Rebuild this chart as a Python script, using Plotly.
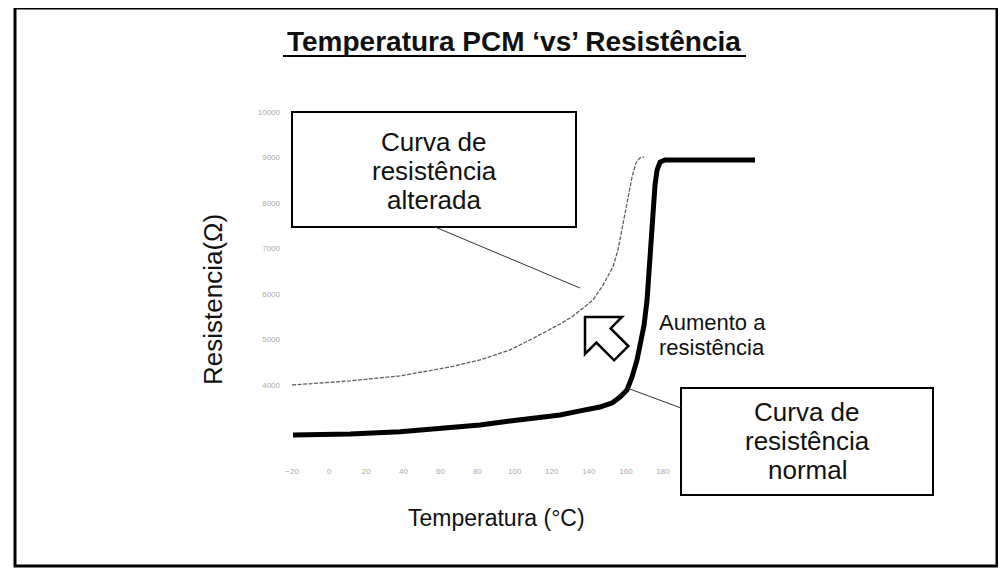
import plotly.graph_objects as go

W, H = 1006, 569
OFF = 8  # browser body margin
FW, FH = W - OFF, H - OFF

# ---- data ----
temp_normal = [-19.5, 11.3, 38.2, 65.2, 81.3, 97.5, 113.7, 124.5, 135.3, 146.0, 152.5,
               156.8, 160.6, 163.3, 166.0, 167.6, 169.8, 171.4, 173.0, 174.6, 175.7,
               176.8, 178.4, 181.1, 229.6]
res_normal = [2900, 2920, 2970, 3055, 3120, 3210, 3275, 3340, 3430, 3515, 3605,
              3735, 3890, 4175, 4550, 4835, 5320, 5870, 6860, 7910, 8400,
              8725, 8900, 8945, 8945]

temp_altered = [-20.0, 11.3, 38.2, 65.2, 81.3, 97.5, 108.3, 116.4, 124.5, 131.5, 137.9,
                142.3, 147.7, 153.0, 155.7, 158.4, 161.1, 163.3, 165.4, 167.6, 169.8]
res_altered = [4000, 4090, 4200, 4395, 4550, 4770, 4990, 5165, 5340, 5515, 5715,
               5870, 6200, 6595, 6965, 7560, 8110, 8570, 8880, 8990, 9010]

x_ticks = [-20, 0, 20, 40, 60, 80, 100, 120, 140, 160, 180]
y_ticks = [4000, 5000, 6000, 7000, 8000, 9000, 10000]

title_text = "Temperatura PCM \u2018vs\u2019 Resistência"
x_title = "Temperatura (°C)"
y_title = "Resistencia(Ω)"
box1_lines = ["Curva de", "resistência", "alterada"]
box2_lines = ["Curva de", "resistência", "normal"]
arrow_lines = ["Aumento a", "resistência"]


def px(x, y):
    return (x - OFF) / FW, 1 - (y - OFF) / FH


fig = go.Figure()
fig.add_trace(go.Scatter(x=temp_altered, y=res_altered, mode="lines",
                         line=dict(color="#606060", width=1.3, dash="4px,1.5px"),
                         showlegend=False, hoverinfo="skip"))
fig.add_trace(go.Scatter(x=temp_normal, y=res_normal, mode="lines",
                         line=dict(color="#000000", width=5),
                         showlegend=False, hoverinfo="skip"))

x0d, y0d = px(281, 464.6)
x1d, y1d = px(765, 89.25)

fig.update_layout(
    width=FW, height=FH,
    margin=dict(l=0, r=0, t=0, b=0),
    paper_bgcolor="white", plot_bgcolor="white",
    xaxis=dict(domain=[x0d, x1d], range=[-26, 235], tickvals=x_ticks,
               showgrid=False, zeroline=False, showline=False,
               tickfont=dict(size=8, color="#aaaaaa", family="Liberation Sans")),
    yaxis=dict(domain=[y0d, y1d], range=[2250, 10500], tickvals=y_ticks,
               tickformat="d",
               showgrid=False, zeroline=False, showline=False,
               tickfont=dict(size=8, color="#aaaaaa", family="Liberation Sans")),
)

shapes = []
def rect(xa, ya, xb, yb, width, fill=None, color="black"):
    a = px(xa, ya); b = px(xb, yb)
    shapes.append(dict(type="rect", xref="paper", yref="paper",
                       x0=a[0], y0=a[1], x1=b[0], y1=b[1],
                       line=dict(color=color, width=width),
                       fillcolor=fill if fill else "rgba(0,0,0,0)", layer="above"))

def line(xa, ya, xb, yb, width, color="black"):
    a = px(xa, ya); b = px(xb, yb)
    shapes.append(dict(type="line", xref="paper", yref="paper",
                       x0=a[0], y0=a[1], x1=b[0], y1=b[1],
                       line=dict(color=color, width=width), layer="above"))

# outer frame
rect(15, 8, 997, 566, 3)
# title underline
line(283, 56, 746, 56, 2)
# boxes
rect(292, 112, 576, 227, 2, fill="white")
rect(681, 388, 933, 495, 2, fill="white")
# leader lines
line(435, 227, 580, 288, 1, color="#333333")
line(627, 388, 681, 408, 1, color="#333333")
# hollow arrow pointing up-left
pts = [(585, 317), (622, 317), (610.6, 328.4), (628.3, 346.1), (614.1, 360.3),
       (596.4, 342.6), (585, 354)]
path = "M " + " L ".join(f"{px(a, b)[0]:.5f},{px(a, b)[1]:.5f}" for a, b in pts) + " Z"
shapes.append(dict(type="path", xref="paper", yref="paper", path=path,
                   line=dict(color="black", width=2.5), fillcolor="white", layer="above"))
fig.update_layout(shapes=shapes)

ann = []
def text(s, x, y, size, xanchor="center", bold=False, angle=0, family="Liberation Sans"):
    p = px(x, y)
    ann.append(dict(text=f"<b>{s}</b>" if bold else s, x=p[0], y=p[1],
                    xref="paper", yref="paper", xanchor=xanchor, yanchor="middle",
                    showarrow=False, textangle=angle,
                    font=dict(size=size, color="#111111", family=family)))

text(title_text, 514, 42, 28, bold=True)
for s, yy in zip(box1_lines, [142, 171, 200]):
    text(s, 434, yy, 26)
for s, yy in zip(box2_lines, [412, 441, 470]):
    text(s, 807, yy, 26)
for s, yy in zip(arrow_lines, [322, 347]):
    text(s, 657, yy, 22, xanchor="left")
text(x_title, 496, 518, 23)
text(y_title, 213, 300, 26, angle=-90)
fig.update_layout(annotations=ann)

fig.write_html("out.html")
